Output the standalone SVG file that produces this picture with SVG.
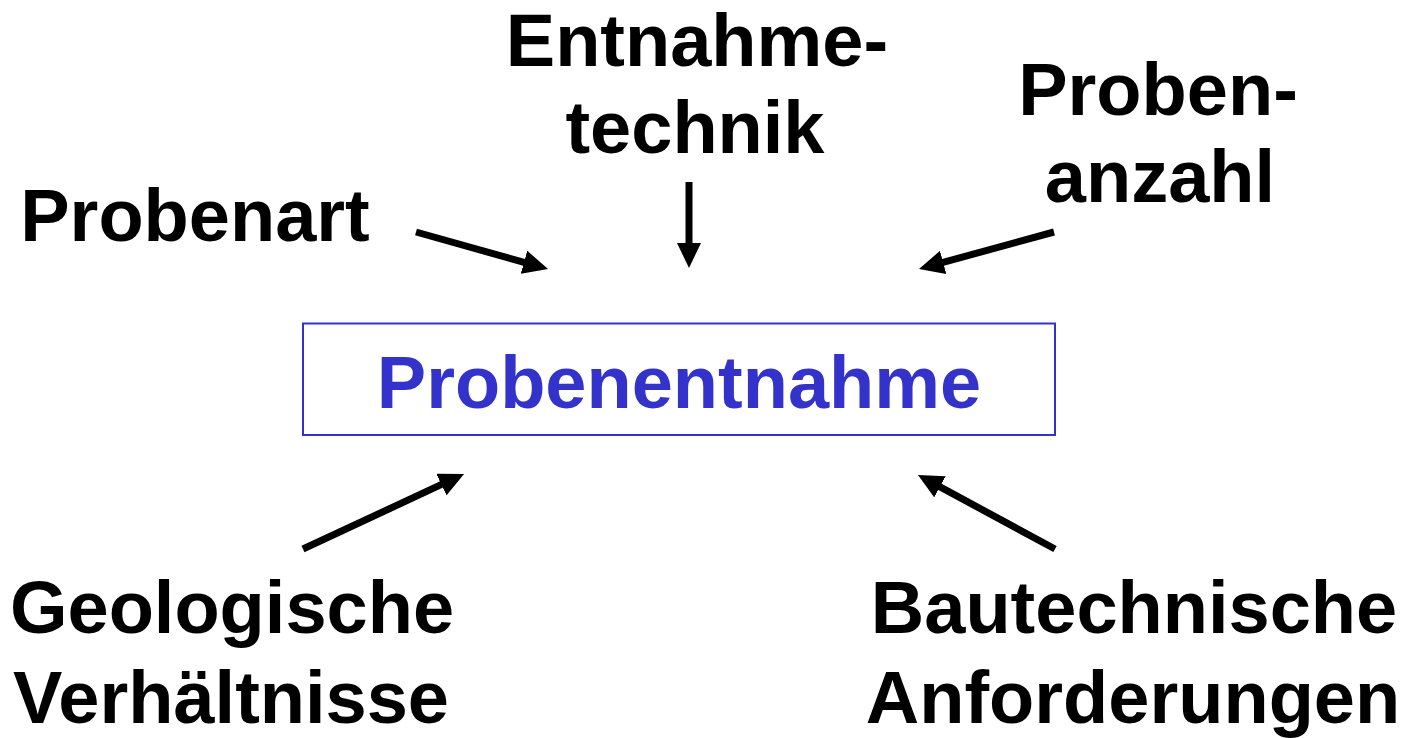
<svg xmlns="http://www.w3.org/2000/svg" width="1406" height="738" viewBox="0 0 1406 738">
<style>
.lbl{font-family:"Liberation Sans",Arial,sans-serif;font-weight:bold;font-size:74px;fill:#000;text-anchor:middle}
.main{font-family:"Liberation Sans",Arial,sans-serif;font-weight:bold;font-size:74px;fill:#3333CC;text-anchor:middle}
.conn{stroke:#000;stroke-width:7;fill:none;marker-end:url(#ah)}
</style>
<defs>
<marker id="ah" viewBox="0 0 25 24" refX="2" refY="12" markerWidth="25" markerHeight="24" markerUnits="userSpaceOnUse" orient="auto">
<path d="M0,0 L25,12 L0,24 Z" fill="#000"/>
</marker>
</defs>
<rect width="1406" height="738" fill="#fff"/>
<g id="center">
<rect x="303" y="323.5" width="752" height="111.5" fill="none" stroke="#3333CC" stroke-width="2"/>
<text class="main" x="679" y="408">Probenentnahme</text>
</g>
<g id="probenart"><text class="lbl" x="195" y="241">Probenart</text></g>
<g id="entnahmetechnik"><text class="lbl" x="697" y="66">Entnahme-</text><text class="lbl" x="695" y="153">technik</text></g>
<g id="probenanzahl"><text class="lbl" x="1158" y="115">Proben-</text><text class="lbl" x="1160" y="202">anzahl</text></g>
<g id="geologische"><text class="lbl" x="232" y="633">Geologische</text><text class="lbl" x="231" y="723">Verhältnisse</text></g>
<g id="bautechnische"><text class="lbl" x="1134" y="633">Bautechnische</text><text class="lbl" x="1133" y="723">Anforderungen</text></g>
<g id="connectors">
<line class="conn" x1="416" y1="232" x2="525.9" y2="262.8"/>
<line class="conn" x1="689" y1="182" x2="689" y2="245"/>
<line class="conn" x1="1054" y1="232" x2="941.2" y2="262.9"/>
<line class="conn" x1="303" y1="549" x2="443.2" y2="483.7"/>
<line class="conn" x1="1055" y1="549" x2="938.2" y2="485.9"/>
</g>
</svg>
